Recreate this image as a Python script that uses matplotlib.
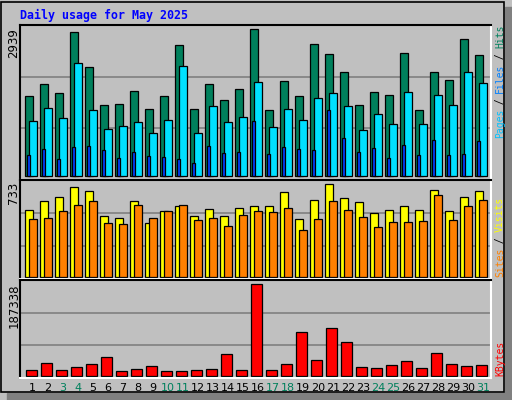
import numpy as np
import matplotlib
matplotlib.use("Agg")
import matplotlib.pyplot as plt
from matplotlib.patches import Rectangle

days = np.arange(1, 32)
weekend = [3, 4, 10, 11, 17, 18, 24, 25, 31]

hits = [1600, 1840, 1660, 2880, 2180, 1420, 1440, 1700, 1340, 1600, 2620, 1340, 1840, 1520, 1740, 2939,
        1320, 1900, 1600, 2640, 2440, 2080, 1420, 1680, 1620, 2460, 1320, 2080, 1920, 2740, 2420]
files = [1100, 1360, 1160, 2260, 1320, 940, 1000, 1080, 860, 1120, 2200, 860, 1400, 1080, 1180, 1880,
         980, 1340, 1120, 1560, 1660, 1400, 920, 1240, 1040, 1680, 1040, 1620, 1420, 2080, 1860]
pages = [420, 540, 340, 580, 600, 520, 360, 480, 400, 380, 340, 260, 600, 460, 480, 1100,
         440, 580, 540, 520, 1320, 760, 480, 560, 360, 620, 420, 720, 420, 440, 700]
visits = [527, 598, 630, 709, 677, 479, 463, 598, 423, 519, 558, 479, 535, 479, 542, 558,
          558, 669, 455, 606, 733, 622, 590, 503, 527, 558, 527, 685, 519, 630, 677]
sites = [455, 463, 519, 566, 598, 423, 415, 566, 463, 519, 566, 447, 463, 400, 487, 519,
         511, 542, 368, 455, 598, 527, 471, 392, 431, 431, 439, 646, 447, 558, 606]
kbytes = [10940, 25300, 10940, 17090, 23250, 37600, 8890, 12990, 19140, 8890, 8890, 10940, 12990, 43760,
          10940, 187338, 10940, 23250, 88880, 31450, 97090, 68370, 17090, 15040, 21190, 29400, 15040,
          45810, 23250, 19140, 21190]

W, H = 512, 400
BG = "#c0c0c0"
fig = plt.figure(figsize=(W / 100, H / 100), dpi=100)
fig.patch.set_facecolor(BG)

# outer frame + shadow
fig.patches.append(Rectangle((505 / W, 0), 7 / W, 1 - 7 / H, transform=fig.transFigure, color="#808080"))
fig.patches.append(Rectangle((7 / W, 0), 1, 7 / H, transform=fig.transFigure, color="#808080"))
fig.patches.append(Rectangle((1 / W, 8 / H), 503 / W, 390 / H, transform=fig.transFigure,
                             fill=False, ec="black", lw=1.2))


def panel(top, bottom, ylim):
    ax = fig.add_axes([20 / W, 1 - bottom / H, 471 / W, (bottom - top) / H])
    ax.set_facecolor(BG)
    ax.set_xlim(0.147, 31.547)
    ax.set_ylim(*ylim)
    ax.set_xticks([])
    ax.set_yticks([])
    for s in ax.spines.values():
        s.set_linewidth(1.5)
    ax.spines["right"].set_color("white")
    ax.spines["bottom"].set_color("white")
    for f in (1 / 3, 2 / 3):
        ax.axhline(ylim[0] + (ylim[1] - ylim[0]) * f, color="#808080", lw=1.2, zorder=0)
    return ax


kw = dict(align="edge", edgecolor="black", linewidth=0.9)

ax1 = panel(25, 180, (-80, 3019))
ax1.bar(days - 0.5, hits, 0.49, color="#00805c", **kw)
ax1.bar(days - 0.5 + 4 / 15, files, 0.49, color="#00e0ff", **kw)
ax1.bar(days - 0.387, pages, 0.18, color="#0040ff", **kw)

ax2 = panel(180, 279, (-18, 767))
ax2.bar(days - 0.5, visits, 0.53, color="#ffff00", **kw)
ax2.bar(days - 0.5 + 4 / 15, sites, 0.53, color="#ff8000", **kw)

ax3 = panel(280, 378, (-4700, 196150))
ax3.bar(days - 0.43, kbytes, 0.69, color="#ff0000", **kw)

fig.text(20 / W, 1 - 15 / H, "Daily usage for May 2025", family="DejaVu Sans Mono",
         weight="bold", color="#0000ff", fontsize=8.4, va="center")

for lbl, top in (("2939", 28), ("733", 182), ("187338", 283)):
    fig.text(14 / W, 1 - top / H, lbl, rotation=90, ha="center", va="top", fontsize=8.5)

for d in days:
    x = 20 + (d - 0.147) * 471 / 31.4
    fig.text(x / W, 1 - 388 / H, str(d), ha="center", va="center", fontsize=8,
             color="#00805c" if d in weekend else "black")


def side(parts, y0):
    y = y0
    for txt, col in parts:
        fig.text(500 / W, 1 - y / H, txt, rotation=90, ha="center", va="bottom",
                 family="DejaVu Sans Mono", fontsize=7, color=col)
        y -= len(txt) * 5.6


side([("Pages", "#00c0ff"), (" / ", "black"), ("Files", "#0080ff"), (" / ", "black"), ("Hits", "#00805c")], 138)
side([("Sites", "#ff8000"), (" / ", "black"), ("Visits", "#ffff00")], 277)
side([("KBytes", "#ff0000")], 376)

fig.savefig("out.png", dpi=100, facecolor=BG)
